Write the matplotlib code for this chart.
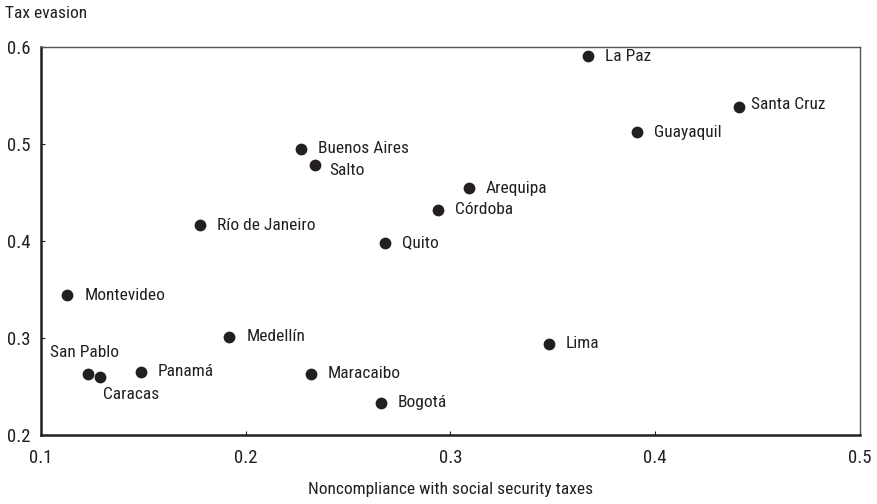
import matplotlib
matplotlib.use("Agg")
import matplotlib.pyplot as plt
from matplotlib import font_manager

cities = ["La Paz", "Santa Cruz", "Guayaquil", "Buenos Aires", "Salto", "Arequipa",
          "Córdoba", "Río de Janeiro", "Quito", "Montevideo", "Medellín", "Lima",
          "San Pablo", "Caracas", "Panamá", "Maracaibo", "Bogotá"]
noncompliance = [0.367, 0.441, 0.391, 0.227, 0.234, 0.309,
                 0.294, 0.178, 0.268, 0.113, 0.192, 0.348,
                 0.123, 0.129, 0.149, 0.232, 0.266]
tax_evasion = [0.590, 0.538, 0.512, 0.495, 0.478, 0.454,
               0.432, 0.416, 0.398, 0.344, 0.301, 0.294,
               0.263, 0.260, 0.265, 0.263, 0.233]
xticks = [0.1, 0.2, 0.3, 0.4, 0.5]
yticks = [0.2, 0.3, 0.4, 0.5, 0.6]

# label offsets in pixels (dx, dy up-positive), alignment
default_off = (17, 0, "left", "center")
label_off = {
    "Santa Cruz": (12, 2, "left", "center"),
    "Salto": (14, -5, "left", "center"),
    "San Pablo": (-3, 21, "center", "center"),
    "Caracas": (3, -18, "left", "center"),
}

# find a condensed face if one is installed
fonts = font_manager.fontManager.ttflist
names = {f.name for f in fonts}
fam = None
stretch = "normal"
for cand in ["Liberation Sans Narrow", "Roboto Condensed", "Open Sans Condensed",
             "Noto Sans Condensed", "DejaVu Sans Condensed", "Arial Narrow"]:
    if cand in names:
        fam = cand
        break
if fam is None:
    cond = [f for f in fonts if str(f.stretch) in ("condensed", "semi-condensed", "extra-condensed")
            or (isinstance(f.stretch, int) and f.stretch < 500)]
    for pref in ["Liberation Sans", "Roboto", "Open Sans", "Noto Sans", "DejaVu Sans", "Lato", "Inter"]:
        if any(f.name == pref for f in cond):
            fam = pref
            stretch = "condensed"
            break
if fam is None:
    fam = "Liberation Sans"
plt.rcParams["font.family"] = [fam, "DejaVu Sans"]
plt.rcParams["font.stretch"] = stretch
fs = 12.5 if fam != "Liberation Sans" else 11
tfs = 13.5 if fam != "Liberation Sans" else 12

DPI = 100
fig = plt.figure(figsize=(8.77, 5.04), dpi=DPI)
ax = fig.add_axes([0.0464, 0.1369, 0.9342, 0.7704])

ink = "#231f20"
ax.scatter(noncompliance, tax_evasion, s=72, color=ink, zorder=3, linewidths=0)

for name, x, y in zip(cities, noncompliance, tax_evasion):
    dx, dy, ha, va = label_off.get(name, default_off)
    ax.annotate(name, (x, y), xytext=(dx * 72 / DPI, dy * 72 / DPI),
                textcoords="offset points", ha=ha, va=va, fontsize=fs, color=ink)

ax.set_xlim(0.1, 0.5)
ax.set_ylim(0.2, 0.6)
ax.set_xticks(xticks)
ax.set_yticks(yticks)
ax.set_xticklabels([f"{v:g}" for v in xticks])
ax.set_yticklabels([f"{v:g}" for v in yticks])
ax.tick_params(direction="in", length=3, width=0.8, labelsize=tfs, colors=ink)
ax.tick_params(axis="x", pad=10)
ax.tick_params(axis="y", pad=7)

for side in ["left", "bottom"]:
    ax.spines[side].set_linewidth(1.8)
    ax.spines[side].set_color(ink)
for side in ["top", "right"]:
    ax.spines[side].set_linewidth(1.0)
    ax.spines[side].set_color("#555555")

ax.set_xlabel("Noncompliance with social security taxes", fontsize=fs, color=ink, labelpad=11)
fig.text(5 / 877, 1 - 13 / 504, "Tax evasion", fontsize=fs, color=ink, ha="left", va="center")

fig.savefig("out.png", dpi=DPI)
